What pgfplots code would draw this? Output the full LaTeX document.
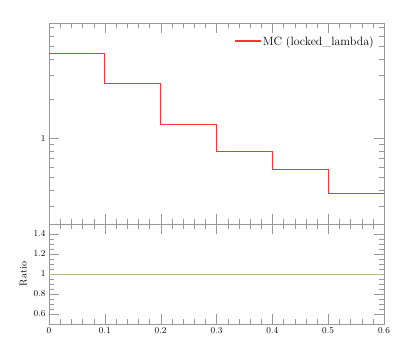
\documentclass[border=0pt]{standalone}
\usepackage{pgfplots}
\pgfplotsset{compat=1.18}
\definecolor{axgray}{rgb}{0.6,0.6,0.6}
\definecolor{ratioline}{rgb}{0.72,0.72,0.52}
\definecolor{mcred}{rgb}{1,0.2,0.2}
\begin{document}
\begin{tikzpicture}
\useasboundingbox (-49pt,-34pt) rectangle (348pt,324pt);
\pgfplotsset{
  every axis/.append style={
    scale only axis, width=335pt,
    xmin=0, xmax=0.6,
    axis line style={axgray},
    tick style={axgray},
    tick align=inside,
    major tick length=10pt, minor tick length=5pt,
    xtick={0,0.1,...,0.6},
    minor x tick num=4,
    tick label style={font=\small},
    /pgf/number format/fixed,
  }
}
\begin{axis}[
  at={(0pt,100pt)}, anchor=south west, height=201pt,
  ymode=log, ymin=0.221, ymax=7.55,
  ytick={1}, yticklabels={1},
  minor ytick={0.3,0.4,0.5,0.6,0.7,0.8,0.9,2,3,4,5,6,7},
  xticklabels={},
  legend style={draw=none, fill=none, at={(0.985,0.955)}, anchor=north east, font=\large},
  legend cell align=left,
  legend image code/.code={%
    \node[inner sep=0pt, anchor=west, text=mcred] at (0pt,0pt) {\textcolor{mcred}{\rule[-0.5pt]{26pt}{1.1pt}}\hspace{5pt}};},
]
\addplot[const plot, draw=mcred, line width=1pt] coordinates {
 (0,4.43) (0.1,2.62) (0.2,1.28) (0.3,0.786) (0.4,0.573) (0.5,0.378) (0.6,0.378)};
\addlegendentry{MC (locked\_lambda)}
\end{axis}
\begin{axis}[
  at={(0pt,0pt)}, anchor=south west, height=100pt,
  ymin=0.5, ymax=1.5,
  ytick={0.6,0.8,1,1.2,1.4},
  minor y tick num=3,
  xticklabels={0,0.1,0.2,0.3,0.4,0.5,0.6},
  ylabel={Ratio}, ylabel style={font=\normalsize},
]
\addplot[ratioline, line width=0.8pt] coordinates {(0,1) (0.6,1)};
\end{axis}
\end{tikzpicture}
\end{document}
